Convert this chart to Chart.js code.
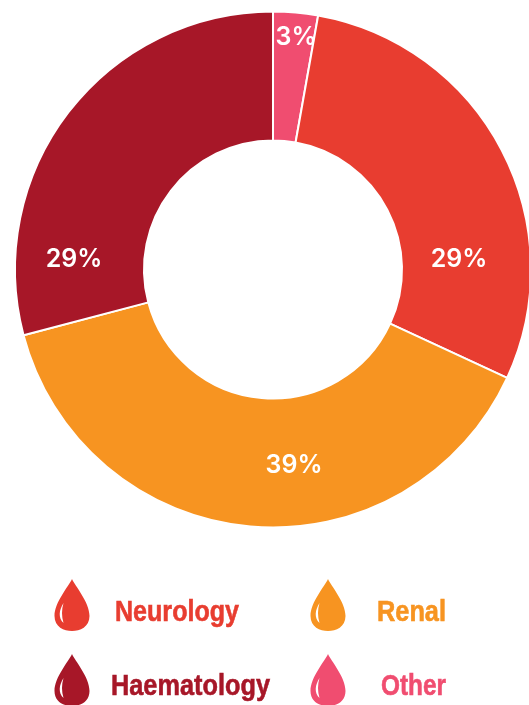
<!DOCTYPE html>
<html><head><meta charset="utf-8">
<style>html,body{margin:0;padding:0;background:#fff;overflow:hidden;width:529px;height:705px}canvas{display:block}</style>
<script src="https://cdn.jsdelivr.net/npm/chart.js@4/dist/chart.umd.min.js"></script>
</head><body><canvas id="c" width="546" height="705"></canvas>
<script>
const categories=['Other','Neurology','Renal','Haematology'];
const shares=[2.8,29.1,39,29.1];
const colours=['#F04D70','#E83D30','#F79421','#A71728'];
const valueAnchors=[[296,37],[459,259],[294,465],[74,259]];
const legendSpots=[
 {i:1,dx:54,dy:579,tx:115,tw:124,ty:621},
 {i:2,dx:310,dy:579,tx:377,tw:69,ty:621},
 {i:3,dx:54,dy:654,tx:111,tw:159,ty:695},
 {i:0,dx:310,dy:654,tx:381,tw:65,ty:695}];
function drop(ctx,x,y,col){
 ctx.save();ctx.translate(x,y);
 ctx.fillStyle=col;ctx.beginPath();
 ctx.moveTo(18,0);
 ctx.bezierCurveTo(21,7,35.5,23,35.5,37);
 ctx.bezierCurveTo(35.5,48,26,52,18,52);
 ctx.bezierCurveTo(10,52,0.5,48,0.5,37);
 ctx.bezierCurveTo(0.5,23,15,7,18,0);
 ctx.fill();
 ctx.fillStyle='#fff';ctx.beginPath();
 ctx.moveTo(9.5,24);
 ctx.bezierCurveTo(5,31,4,39,9.5,44);
 ctx.bezierCurveTo(7.5,37,7.5,31,9.5,24);
 ctx.fill();
 ctx.restore();
}
const overlay={id:'overlay',afterDraw(chart){
 const ctx=chart.ctx;ctx.save();
 ctx.textAlign='center';ctx.textBaseline='middle';ctx.fillStyle='#fff';
 ctx.font='600 25px Inter, sans-serif';
 shares.forEach((v,i)=>ctx.fillText(Math.round(v)+'%',valueAnchors[i][0],valueAnchors[i][1]));
 ctx.textAlign='left';ctx.textBaseline='alphabetic';
 ctx.font='700 30px "Liberation Sans Narrow","Liberation Sans",sans-serif';
 legendSpots.forEach(s=>{
  drop(ctx,s.dx,s.dy,colours[s.i]);
  const w=ctx.measureText(categories[s.i]).width;
  ctx.save();ctx.translate(s.tx,s.ty);ctx.scale(s.tw/w,1);
  ctx.fillStyle=colours[s.i];ctx.strokeStyle=colours[s.i];ctx.lineWidth=.6;
  ctx.fillText(categories[s.i],0,0);ctx.strokeText(categories[s.i],0,0);ctx.restore();
 });
 ctx.restore();
}};
new Chart(document.getElementById('c'),{type:'doughnut',
 data:{labels:categories,datasets:[{data:shares,backgroundColor:colours,borderColor:'#fff',borderWidth:2}]},
 options:{responsive:false,animation:false,cutout:'50%',radius:258,
  layout:{padding:{left:14,right:14,top:11,bottom:177}},
  plugins:{legend:{display:false},tooltip:{enabled:false}}},
 plugins:[overlay]});
</script></body></html>
